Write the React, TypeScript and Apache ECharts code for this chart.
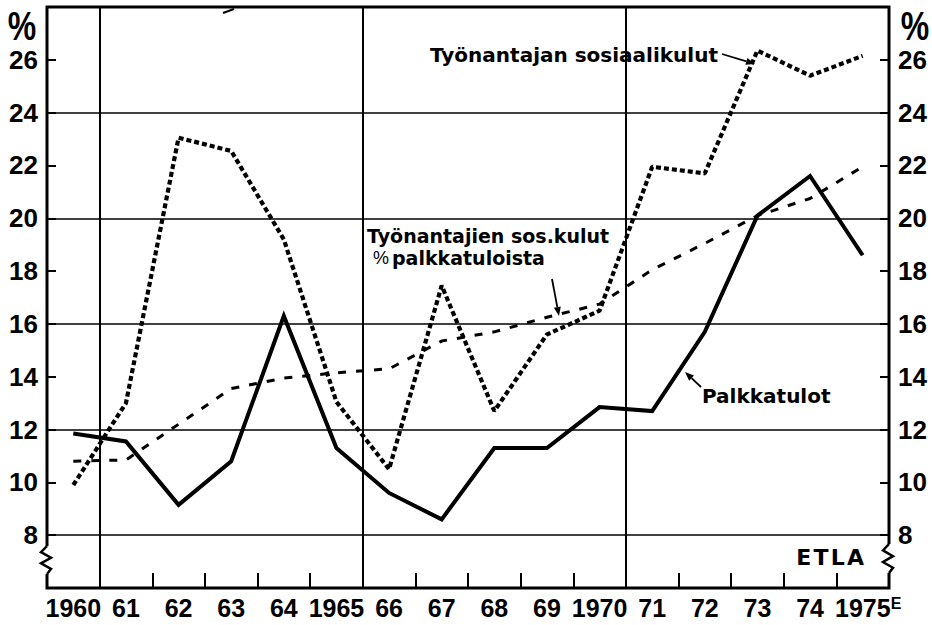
import React, { useEffect, useRef } from "react";
import * as echarts from "echarts";

// ---- data ----
const years = ["1960", "61", "62", "63", "64", "1965", "66", "67", "68", "69", "1970", "71", "72", "73", "74", "1975"];
const palkkatulot = [11.85, 11.55, 9.15, 10.8, 16.3, 11.3, 9.6, 8.6, 11.3, 11.3, 12.85, 12.7, 15.7, 20.1, 21.6, 18.6];
const sosiaalikulut = [9.9, 13.0, 23.05, 22.55, 19.2, 13.05, 10.5, 17.45, 12.7, 15.6, 16.5, 21.95, 21.7, 26.35, 25.4, 26.15];
const sosKulutOsuus = [10.8, 10.85, 12.2, 13.55, 13.95, 14.15, 14.3, 15.35, 15.7, 16.25, 16.75, 18.05, 19.05, 20.1, 20.75, 21.95];
const yTickLabels = [8, 10, 12, 14, 16, 18, 20, 22, 24, 26];
const gridValues = [8, 12, 16, 20, 24];
const decadeStarts = ["61", "66", "71"]; // vertical rule drawn at the left edge of these categories
const yMin = 6;
const yMax = 28;
const yStep = 2;

const numFont = "'Liberation Sans', Arial, sans-serif";
const textFont = "'DejaVu Sans', sans-serif";

function arrow(x1: number, y1: number, x2: number, y2: number) {
  const ang = Math.atan2(y2 - y1, x2 - x1);
  const L = 9;
  const W = 3.5;
  const bx = x2 - L * Math.cos(ang);
  const by = y2 - L * Math.sin(ang);
  const px = -Math.sin(ang) * W;
  const py = Math.cos(ang) * W;
  return [
    { type: "line", z: 100, shape: { x1, y1, x2: bx, y2: by }, style: { stroke: "#000", lineWidth: 1.8 } },
    { type: "polygon", z: 100, shape: { points: [[x2, y2], [bx + px, by + py], [bx - px, by - py]] }, style: { fill: "#000" } },
  ];
}

function breakMark(x: number, y0: number, y1: number) {
  const h = y1 - y0;
  return [
    { type: "rect", z: 100, shape: { x: x - 3, y: y0, width: 6, height: h }, style: { fill: "#fff" } },
    {
      type: "polyline",
      z: 101,
      shape: {
        points: [
          [x, y0],
          [x - 6, y0 + h * 0.22],
          [x + 4, y0 + h * 0.42],
          [x - 6, y0 + h * 0.62],
          [x + 4, y0 + h * 0.82],
          [x, y1],
        ],
      },
      style: { stroke: "#000", lineWidth: 2.5, fill: null },
    },
  ];
}

export default function App() {
  const ref = useRef<HTMLDivElement>(null);

  useEffect(() => {
    if (!ref.current) return;
    const chart = echarts.init(ref.current, null, { renderer: "svg" });

    const yAxisBase = {
      type: "value",
      min: yMin,
      max: yMax,
      interval: yStep,
      axisLine: { show: false },
      axisTick: { show: true, inside: true, length: 9, lineStyle: { color: "#000", width: 2 } },
      splitLine: { show: false },
      axisLabel: {
        margin: 9,
        color: "#000",
        fontFamily: numFont,
        fontWeight: "bold",
        fontSize: 26,
        formatter: (v: number) => (yTickLabels.includes(v) ? String(v) : ""),
      },
    };

    chart.setOption({
      animation: false,
      backgroundColor: "#fff",
      grid: { left: 47, right: 43, top: 7, bottom: 37, show: true, borderColor: "#000", borderWidth: 3, backgroundColor: "transparent" },
      xAxis: [
        {
          type: "category",
          data: years,
          boundaryGap: true,
          axisLine: { show: false },
          axisTick: { show: true, inside: true, interval: 0, length: 15, lineStyle: { color: "#000", width: 2 } },
          splitLine: {
            show: true,
            interval: (i: number) => decadeStarts.includes(years[i]),
            lineStyle: { color: "#000", width: 2 },
          },
          axisLabel: {
            interval: 0,
            margin: 7,
            color: "#000",
            fontFamily: numFont,
            fontWeight: "bold",
            fontSize: 25,
            formatter: (v: string, i: number) => (i === years.length - 1 ? `{pad|}{n|${v}}{e|E}` : v),
            rich: {
              pad: { width: 11 },
              n: { fontFamily: numFont, fontWeight: "bold", fontSize: 25, color: "#000" },
              e: { fontFamily: numFont, fontWeight: "bold", fontSize: 16, color: "#000", verticalAlign: "top", padding: [0, 0, 10, 0] },
            },
          },
        },
      ],
      yAxis: [
        { ...yAxisBase, position: "left" },
        { ...yAxisBase, position: "right" },
      ],
      series: [
        {
          name: "Palkkatulot",
          type: "line",
          data: palkkatulot,
          symbol: "none",
          z: 4,
          lineStyle: { color: "#000", width: 4, join: "miter" },
          markLine: {
            silent: true,
            symbol: ["none", "none"],
            label: { show: false },
            lineStyle: { color: "#000", width: 1.5, type: "solid" },
            data: gridValues.map((v) => ({ yAxis: v })),
          },
        },
        {
          name: "Työnantajan sosiaalikulut",
          type: "line",
          data: sosiaalikulut,
          symbol: "none",
          z: 3,
          lineStyle: { color: "#000", width: 4.2, type: [5, 3] },
        },
        {
          name: "Työnantajien sos.kulut % palkkatuloista",
          type: "line",
          data: sosKulutOsuus,
          symbol: "none",
          z: 3,
          lineStyle: { color: "#000", width: 3, type: [8, 10] },
        },
      ],
      graphic: [
        {
          type: "text", z: 100, x: 22, y: 26, scaleX: 0.8,
          style: { text: "%", fill: "#000", fontFamily: numFont, fontWeight: "bold", fontSize: 40, align: "center", verticalAlign: "middle" },
        },
        {
          type: "text", z: 100, x: 915, y: 26, scaleX: 0.8,
          style: { text: "%", fill: "#000", fontFamily: numFont, fontWeight: "bold", fontSize: 40, align: "center", verticalAlign: "middle" },
        },
        {
          type: "text", z: 100, x: 718, y: 55,
          style: { text: "Työnantajan sosiaalikulut", fill: "#000", fontFamily: textFont, fontWeight: "bold", fontSize: 20, align: "right", verticalAlign: "middle" },
        },
        {
          type: "text", z: 100, x: 367, y: 236,
          style: { text: "Työnantajien sos.kulut", fill: "#000", fontFamily: textFont, fontWeight: "bold", fontSize: 19, align: "left", verticalAlign: "middle" },
        },
        {
          type: "text", z: 100, x: 373, y: 258,
          style: {
            text: "{p|%}{t|palkkatuloista}",
            fill: "#000",
            align: "left",
            verticalAlign: "middle",
            rich: {
              p: { fontFamily: numFont, fontSize: 18, fill: "#000", padding: [0, 3, 0, 0] },
              t: { fontFamily: textFont, fontWeight: "bold", fontSize: 19, fill: "#000" },
            },
          },
        },
        {
          type: "text", z: 100, x: 702, y: 396,
          style: { text: "Palkkatulot", fill: "#000", fontFamily: textFont, fontWeight: "bold", fontSize: 20, align: "left", verticalAlign: "middle" },
        },
        {
          type: "text", z: 100, x: 864, y: 557,
          style: { text: "E\u200AT\u200AL\u200AA", fill: "#000", fontFamily: textFont, fontWeight: "bold", fontSize: 22, align: "right", verticalAlign: "middle" },
        },
        ...arrow(722, 54, 755, 64),
        ...arrow(552, 279, 559, 316),
        ...arrow(701, 387, 685, 372),
        { type: "line", z: 100, shape: { x1: 223, y1: 13, x2: 234, y2: 9 }, style: { stroke: "#000", lineWidth: 2 } },
        ...breakMark(47, 546, 574),
        ...breakMark(889, 544, 573),
      ],
    });

    return () => chart.dispose();
  }, []);

  return <div ref={ref} style={{ position: "fixed", left: 0, top: 0, width: 932, height: 625, background: "#fff" }} />;
}
